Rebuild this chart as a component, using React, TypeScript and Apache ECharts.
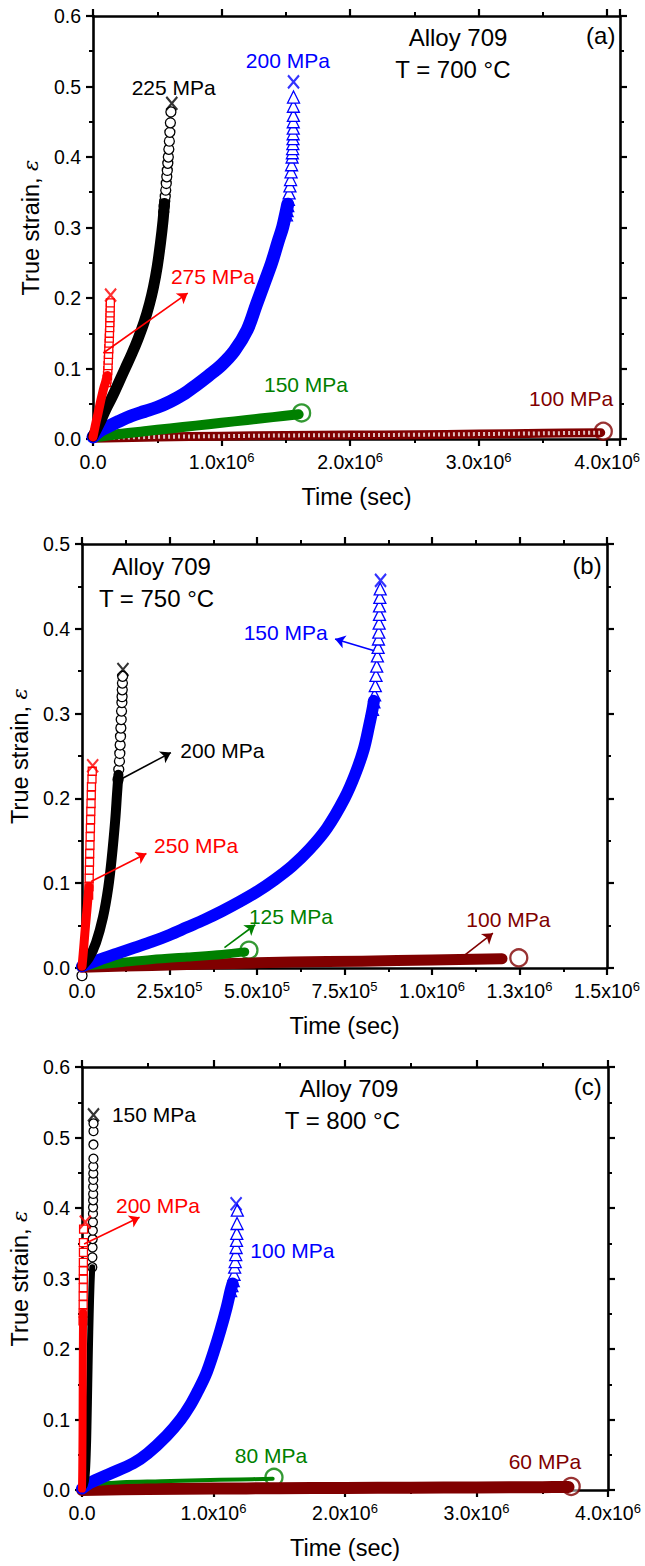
import { useEffect, useRef } from 'react';
import * as echarts from 'echarts';

const FONT = '"Liberation Sans", Arial, Helvetica, sans-serif';
const BLACK = '#000000';
const BLUE = '#0000ff';
const RED = '#ff0000';
const GREEN = '#008000';
const BROWN = '#800000';

// ================= Panel (a): T = 700 °C, time in units of 10^6 s =================
const a275Body = [[0, 0.003], [0.01, 0.012], [0.025, 0.025], [0.04, 0.037], [0.055, 0.05], [0.07, 0.062], [0.085, 0.073], [0.1, 0.082], [0.113, 0.09]];
const a275Tail = [[0.105, 0.08], [0.109, 0.085], [0.113, 0.09], [0.115, 0.097], [0.117, 0.104], [0.119, 0.112], [0.121, 0.12], [0.123, 0.128], [0.125, 0.136], [0.127, 0.143], [0.128, 0.15], [0.13, 0.158], [0.131, 0.165], [0.132, 0.172], [0.133, 0.179], [0.134, 0.186], [0.135, 0.193]];
const a275Rupture = [0.137, 0.204];
const a225Body = [[0, 0.004], [0.05, 0.022], [0.1, 0.042], [0.15, 0.06], [0.2, 0.08], [0.25, 0.1], [0.3, 0.12], [0.35, 0.142], [0.4, 0.167], [0.44, 0.192], [0.47, 0.215], [0.5, 0.245], [0.525, 0.278], [0.545, 0.31], [0.556, 0.334]];
const a225Tail = [[0.55, 0.322], [0.554, 0.33], [0.558, 0.337], [0.562, 0.344], [0.566, 0.353], [0.57, 0.3625], [0.574, 0.372], [0.578, 0.381], [0.582, 0.391], [0.586, 0.4], [0.59, 0.411], [0.594, 0.4225], [0.598, 0.435], [0.602, 0.4485], [0.606, 0.464]];
const a225Rupture = [0.613, 0.476];
const a200Body = [[0, 0.003], [0.05, 0.011], [0.1, 0.016], [0.2, 0.025], [0.3, 0.033], [0.4, 0.039], [0.5, 0.045], [0.6, 0.053], [0.7, 0.063], [0.8, 0.076], [0.9, 0.09], [1.0, 0.105], [1.1, 0.125], [1.2, 0.155], [1.27, 0.19], [1.33, 0.22], [1.39, 0.25], [1.44, 0.28], [1.475, 0.3], [1.5, 0.32], [1.515, 0.333]];
const a200Tail = [[1.505, 0.318], [1.51, 0.324], [1.515, 0.331], [1.52, 0.34], [1.526, 0.349], [1.532, 0.359], [1.537, 0.368], [1.541, 0.379], [1.545, 0.389], [1.549, 0.4], [1.551, 0.406], [1.553, 0.412], [1.555, 0.419], [1.556, 0.426], [1.557, 0.433], [1.558, 0.441], [1.558, 0.45], [1.559, 0.459], [1.559, 0.472], [1.56, 0.485]];
const a200Rupture = [1.56, 0.5065];
const a150Curve = [[0, 0.002], [0.2, 0.007], [0.4, 0.011], [0.6, 0.015], [0.8, 0.019], [1.0, 0.023], [1.2, 0.027], [1.4, 0.031], [1.6, 0.035]];
const a150End = [1.623, 0.037];
const a100Curve = [[0, 0.001], [0.5, 0.003], [1.0, 0.004], [1.5, 0.005], [2.0, 0.0055], [2.5, 0.006], [3.0, 0.007], [3.5, 0.008], [3.95, 0.009]];
const a100End = [3.97, 0.011];
const a275Arrow = [[0.08, 0.122], [0.737, 0.207]];
const aTexts = ['Alloy 709', 'T = 700 °C', '(a)', '225 MPa', '200 MPa', '275 MPa', '150 MPa', '100 MPa'];
const aTextAt = [[2.84, 0.57], [2.8, 0.524], [3.95, 0.573], [0.628, 0.499], [1.516, 0.537], [0.933, 0.231], [1.657, 0.077], [3.72, 0.058]];

// ================= Panel (b): T = 750 °C, time in units of 10^5 s =================
const b250Body = [[0, 0.002], [0.03, 0.015], [0.06, 0.03], [0.1, 0.05], [0.14, 0.068], [0.17, 0.082], [0.2, 0.096]];
const b250Tail = [[0.19, 0.086], [0.2, 0.096], [0.205, 0.106], [0.21, 0.1155], [0.215, 0.125], [0.22, 0.135], [0.227, 0.145], [0.234, 0.155], [0.24, 0.165], [0.246, 0.175], [0.252, 0.185], [0.258, 0.194], [0.265, 0.204], [0.27, 0.214], [0.285, 0.223], [0.293, 0.232]];
const b250Rupture = [0.305, 0.2385];
const b200Body = [[0, 0.002], [0.2, 0.012], [0.4, 0.03], [0.6, 0.06], [0.75, 0.095], [0.85, 0.13], [0.95, 0.175], [1.0, 0.205], [1.04, 0.228]];
const b200Tail = [[1.03, 0.222], [1.05, 0.234], [1.07, 0.244], [1.08, 0.253], [1.09, 0.263], [1.1, 0.273], [1.11, 0.283], [1.12, 0.293], [1.13, 0.303], [1.14, 0.313], [1.145, 0.32], [1.15, 0.328], [1.155, 0.336], [1.16, 0.344]];
const b200Rupture = [1.17, 0.352];
const b200First = [0.0, -0.009];
const b150Body = [[0, 0.002], [0.5, 0.01], [1, 0.017], [1.5, 0.024], [2, 0.031], [2.5, 0.039], [3, 0.048], [3.5, 0.057], [4, 0.067], [4.5, 0.078], [5, 0.09], [5.5, 0.104], [6, 0.12], [6.5, 0.14], [7, 0.165], [7.5, 0.2], [7.8, 0.228], [8.05, 0.258], [8.2, 0.285], [8.3, 0.305], [8.34, 0.315]];
const b150Tail = [[8.3, 0.305], [8.34, 0.314], [8.36, 0.322], [8.38, 0.333], [8.4, 0.345], [8.42, 0.356], [8.44, 0.368], [8.46, 0.378], [8.47, 0.388], [8.48, 0.396], [8.49, 0.4066], [8.5, 0.417], [8.5, 0.427], [8.51, 0.437], [8.52, 0.447]];
const b150Rupture = [8.53, 0.457];
const b125Curve = [[0, 0.002], [1, 0.006], [2, 0.01], [3, 0.013], [4, 0.016], [4.65, 0.019]];
const b125End = [4.77, 0.021];
const b100Curve = [[0, 0.001], [2, 0.003], [4, 0.005], [6, 0.007], [8, 0.008], [10, 0.0095], [12, 0.011]];
const b100End = [12.48, 0.012];
const b150Arrow = [[8.35, 0.374], [7.23, 0.388]];
const b200Arrow = [[1.08, 0.222], [2.54, 0.254]];
const b250Arrow = [[0.26, 0.102], [1.84, 0.135]];
const b125Arrow = [[4.07, 0.024], [4.95, 0.051]];
const b100Arrow = [[10.87, 0.013], [11.74, 0.041]];
const bTexts = ['Alloy 709', 'T = 750 °C', '(b)', '150 MPa', '200 MPa', '250 MPa', '125 MPa', '100 MPa'];
const bTextAt = [[2.27, 0.474], [2.13, 0.436], [14.43, 0.475], [5.82, 0.3955], [4.01, 0.257], [3.26, 0.145], [5.97, 0.061], [12.18, 0.057]];

// ================= Panel (c): T = 800 °C, time in units of 10^6 s =================
const c200Body = [[0, 0.002], [0.002, 0.03], [0.004, 0.08], [0.005, 0.13], [0.006, 0.18], [0.007, 0.22], [0.0085, 0.251]];
const c200Tail = [[0.008, 0.24], [0.0085, 0.251], [0.009, 0.263], [0.009, 0.275], [0.0095, 0.287], [0.01, 0.299], [0.01, 0.311], [0.0105, 0.323], [0.011, 0.337], [0.011, 0.351], [0.012, 0.37]];
const c200Rupture = [0.025, 0.38];
const c150Body = [[0, 0.002], [0.02, 0.006], [0.035, 0.02], [0.045, 0.06], [0.05, 0.1], [0.055, 0.15], [0.06, 0.2], [0.066, 0.25], [0.072, 0.29], [0.078, 0.316]];
const c150Tail = [[0.078, 0.316], [0.079, 0.33], [0.08, 0.344], [0.081, 0.356], [0.082, 0.368], [0.083, 0.38], [0.0835, 0.392], [0.084, 0.401], [0.0845, 0.411], [0.085, 0.42], [0.085, 0.43], [0.0855, 0.44], [0.086, 0.449], [0.086, 0.459], [0.087, 0.47], [0.087, 0.49], [0.0875, 0.509], [0.0875, 0.52]];
const c150Rupture = [0.0875, 0.532];
const c100Body = [[0, 0.002], [0.06, 0.01], [0.2, 0.022], [0.39, 0.038], [0.5, 0.052], [0.644, 0.077], [0.75, 0.1], [0.822, 0.12], [0.88, 0.14], [0.94, 0.163], [1.0, 0.195], [1.05, 0.225], [1.1, 0.259], [1.13, 0.283], [1.145, 0.293]];
const c100Tail = [[1.13, 0.283], [1.14, 0.29], [1.15, 0.297], [1.156, 0.306], [1.161, 0.316], [1.165, 0.324], [1.169, 0.334], [1.172, 0.344], [1.175, 0.354], [1.177, 0.364], [1.179, 0.378], [1.181, 0.397]];
const c100Rupture = [1.172, 0.406];
const c80Curve = [[0, 0.002], [0.1, 0.008], [0.3, 0.011], [0.6, 0.0125], [0.9, 0.014], [1.2, 0.015], [1.45, 0.016]];
const c80End = [1.46, 0.018];
const c60Curve = [[0, 0.0], [0.5, 0.0015], [1.0, 0.002], [1.5, 0.0025], [2.0, 0.003], [2.5, 0.0033], [3.0, 0.0036], [3.5, 0.004], [3.7, 0.0043]];
const c60End = [3.72, 0.005];
const c200Arrow = [[0.016, 0.349], [0.4375, 0.387]];
const cTexts = ['Alloy 709', 'T = 800 °C', '(c)', '150 MPa', '200 MPa', '100 MPa', '80 MPa', '60 MPa'];
const cTextAt = [[2.03, 0.57], [1.98, 0.524], [3.845, 0.572], [0.547, 0.532], [0.578, 0.404], [1.6, 0.34], [1.4375, 0.049], [3.52, 0.04]];

// axis settings
const xMaxes = [4.1e6, 1.5e6, 4.0e6];
const xIntervals = [1e6, 2.5e5, 1e6];
const yMaxes = [0.6, 0.5, 0.6];

const X_PATH = 'path://M0,0L10,12M10,0L0,12';

const toSec = (pts: number[][], s: number) => pts.map(([t, e]) => [t * s, e]);

function supLabel(interval: number) {
  return (v: number) => {
    const k = v / interval;
    if (Math.abs(k - Math.round(k)) > 1e-6) return '';
    if (Math.abs(v) < 1e-9) return '{n|0.0}';
    const e = Math.floor(Math.log10(v) + 1e-9);
    const m = v / Math.pow(10, e);
    return `{n|${m.toFixed(1)}x10}{s|${e}}`;
  };
}

function buildOption() {
  const grids = [
    { left: 93, top: 16, width: 527, height: 423 },
    { left: 81, top: 544, width: 526, height: 424 },
    { left: 82, top: 1067, width: 526, height: 423 },
  ];
  const axisLine = { onZero: false, lineStyle: { color: '#000', width: 2.6 } };
  const axisTick = { show: true, inside: false, length: 7, lineStyle: { color: '#000', width: 2.2 } };
  const minorTick = { show: true, splitNumber: 2, length: 4, lineStyle: { color: '#000', width: 2 } };
  const xAxis: any[] = [];
  const yAxis: any[] = [];
  grids.forEach((_, i) => {
    const common = {
      type: 'value', gridIndex: i, min: 0, max: xMaxes[i], interval: xIntervals[i],
      axisLine, axisTick, minorTick, splitLine: { show: false }, minorSplitLine: { show: false },
    };
    xAxis.push({
      ...common, position: 'bottom',
      axisLabel: {
        margin: 12, formatter: supLabel(xIntervals[i]), showMaxLabel: true, showMinLabel: true,
        rich: {
          n: { fontSize: 19.5, fontFamily: FONT, color: '#000', lineHeight: 22 },
          s: { fontSize: 13, fontFamily: FONT, color: '#000', verticalAlign: 'top', lineHeight: 12 },
        },
      },
      name: 'Time (sec)', nameLocation: 'middle', nameGap: 46,
      nameTextStyle: { fontSize: 23.5, fontFamily: FONT, color: '#000' },
    });
    xAxis.push({ ...common, position: 'top', axisLabel: { show: false } });
    const ycommon = {
      type: 'value', gridIndex: i, min: 0, max: yMaxes[i], interval: 0.1,
      axisLine, axisTick, minorTick, splitLine: { show: false }, minorSplitLine: { show: false },
    };
    yAxis.push({
      ...ycommon, position: 'left',
      axisLabel: {
        margin: 12, fontSize: 19.5, fontFamily: FONT, color: '#000',
        formatter: (v: number) => (Math.abs(v * 10 - Math.round(v * 10)) > 1e-6 ? '' : v.toFixed(1)),
      },
      name: 'True strain, {e|ε}', nameLocation: 'middle', nameGap: 45, nameRotate: 90,
      nameTextStyle: {
        fontSize: 23.5, fontFamily: FONT, color: '#000',
        rich: { e: { fontSize: 21, fontStyle: 'italic', fontFamily: '"DejaVu Serif", serif', color: '#000' } },
      },
    });
    yAxis.push({ ...ycommon, position: 'right', axisLabel: { show: false } });
  });

  const series: any[] = [];
  const band = (gi: number, pts: number[][], s: number, color: string, width: number, arrow?: number[][], texture?: boolean) => {
    const ser: any = {
      type: 'line', xAxisIndex: gi * 2, yAxisIndex: gi * 2, data: toSec(pts, s),
      showSymbol: false, symbol: 'none', silent: true, smooth: 0.35,
      lineStyle: { color, width, cap: 'round', join: 'round' },
    };
    if (arrow) {
      const a = toSec(arrow, s);
      ser.markLine = {
        silent: true, symbol: ['none', 'arrow'], symbolSize: 10, animation: false,
        label: { show: false }, emphasis: { disabled: true },
        lineStyle: { color, width: 1.6, type: 'solid' },
        data: [[{ coord: a[0] }, { coord: a[1] }]],
      };
    }
    series.push(ser);
    if (texture) {
      series.push({
        type: 'line', xAxisIndex: gi * 2, yAxisIndex: gi * 2, data: toSec(pts, s),
        showSymbol: false, symbol: 'none', silent: true, smooth: 0.35,
        lineStyle: { color: 'rgba(255,255,255,0.75)', width: Math.max(2, width - 5), type: [2, 3] },
      });
    }
  };
  const marks = (gi: number, pts: number[][], s: number, color: string, symbol: string, size: number) => {
    series.push({
      type: 'scatter', xAxisIndex: gi * 2, yAxisIndex: gi * 2, data: toSec(pts, s), silent: true,
      symbol, symbolSize: size, clip: false,
      itemStyle: { color: '#ffffff', borderColor: color, borderWidth: 1.3, opacity: 1 },
    });
  };
  const cross = (gi: number, pt: number[], s: number, color: string) => {
    series.push({
      type: 'scatter', xAxisIndex: gi * 2, yAxisIndex: gi * 2, data: toSec([pt], s), silent: true,
      symbol: X_PATH, symbolSize: [11, 13], clip: false,
      itemStyle: { color: 'rgba(0,0,0,0)', borderColor: color, borderWidth: 2.2 },
    });
  };
  const endCircle = (gi: number, pt: number[], s: number, color: string) => {
    series.push({
      type: 'scatter', xAxisIndex: gi * 2, yAxisIndex: gi * 2, data: toSec([pt], s), silent: true,
      symbol: 'circle', symbolSize: 17, clip: false,
      itemStyle: { color: 'rgba(255,255,255,0.6)', borderColor: color, borderWidth: 2.3 },
    });
  };
  const texts = (gi: number, labels: string[], at: number[][], s: number, colors: string[], sizes: number[]) => {
    series.push({
      type: 'scatter', xAxisIndex: gi * 2, yAxisIndex: gi * 2, silent: true, symbolSize: 0.1,
      itemStyle: { color: 'rgba(0,0,0,0)' }, z: 10,
      data: labels.map((t, k) => ({
        value: [at[k][0] * s, at[k][1]],
        label: {
          show: true, position: 'inside', formatter: t, color: colors[k], fontSize: sizes[k], fontFamily: FONT,
          textBorderWidth: 0, textShadowBlur: 0, opacity: 1,
        },
      })),
    });
  };

  const S6 = 1e6;
  const S5 = 1e5;
  const big = [24, 24, 24, 21, 21, 21, 21, 21];

  // panel a
  band(0, a100Curve, S6, BROWN, 9, undefined, true);
  endCircle(0, a100End, S6, BROWN);
  band(0, a150Curve, S6, GREEN, 10);
  endCircle(0, a150End, S6, GREEN);
  band(0, a200Body, S6, BLUE, 13);
  marks(0, a200Tail, S6, BLUE, 'triangle', 12);
  cross(0, a200Rupture, S6, BLUE);
  band(0, a225Body, S6, BLACK, 11);
  marks(0, a225Tail, S6, BLACK, 'circle', 10);
  cross(0, a225Rupture, S6, BLACK);
  band(0, a275Body, S6, RED, 9, a275Arrow);
  marks(0, a275Tail, S6, RED, 'rect', 8);
  cross(0, a275Rupture, S6, RED);
  texts(0, aTexts, aTextAt, S6, [BLACK, BLACK, BLACK, BLACK, BLUE, RED, GREEN, BROWN], big);

  // panel b
  band(1, b100Curve, S5, BROWN, 11, b100Arrow);
  endCircle(1, b100End, S5, BROWN);
  band(1, b125Curve, S5, GREEN, 9, b125Arrow);
  endCircle(1, b125End, S5, GREEN);
  band(1, b150Body, S5, BLUE, 12, b150Arrow);
  marks(1, b150Tail, S5, BLUE, 'triangle', 12);
  cross(1, b150Rupture, S5, BLUE);
  marks(1, [b200First], S5, BLACK, 'circle', 10);
  band(1, b200Body, S5, BLACK, 10, b200Arrow);
  marks(1, b200Tail, S5, BLACK, 'circle', 10);
  cross(1, b200Rupture, S5, BLACK);
  band(1, b250Body, S5, RED, 9, b250Arrow);
  marks(1, b250Tail, S5, RED, 'rect', 8);
  cross(1, b250Rupture, S5, RED);
  texts(1, bTexts, bTextAt, S5, [BLACK, BLACK, BLACK, BLUE, BLACK, RED, GREEN, BROWN], big);

  // panel c
  band(2, c60Curve, S6, BROWN, 12);
  endCircle(2, c60End, S6, BROWN);
  band(2, c80Curve, S6, GREEN, 4);
  endCircle(2, c80End, S6, GREEN);
  band(2, c100Body, S6, BLUE, 12);
  marks(2, c100Tail, S6, BLUE, 'triangle', 12);
  cross(2, c100Rupture, S6, BLUE);
  band(2, c150Body, S6, BLACK, 6);
  marks(2, c150Tail, S6, BLACK, 'circle', 9);
  cross(2, c150Rupture, S6, BLACK);
  band(2, c200Body, S6, RED, 8, c200Arrow);
  marks(2, c200Tail, S6, RED, 'rect', 8);
  cross(2, c200Rupture, S6, RED);
  texts(2, cTexts, cTextAt, S6, [BLACK, BLACK, BLACK, BLACK, RED, BLUE, GREEN, BROWN], big);

  return {
    animation: false,
    backgroundColor: '#ffffff',
    textStyle: { fontFamily: FONT },
    grid: grids,
    xAxis,
    yAxis,
    series,
  };
}

export default function App() {
  const ref = useRef<HTMLDivElement>(null);
  useEffect(() => {
    if (!ref.current) return;
    const chart = echarts.init(ref.current, null, { renderer: 'svg' });
    chart.setOption(buildOption() as any);
    return () => chart.dispose();
  }, []);
  return <div ref={ref} style={{ position: 'absolute', left: 0, top: 0, width: 645, height: 1566, background: '#fff' }} />;
}
